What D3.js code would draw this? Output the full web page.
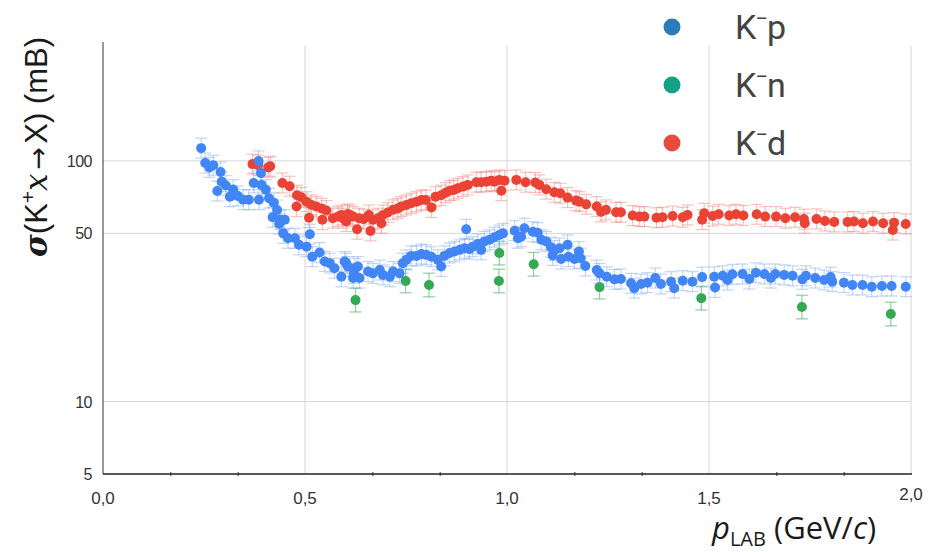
<!DOCTYPE html>
<html>
<head>
<meta charset="utf-8">
<script src="https://cdn.jsdelivr.net/npm/d3@7"></script>
<style>
    body { margin: 0; background: #fff; }
    svg { display: block; }
</style>
</head>
<body>
<svg id="chart" width="928" height="552"></svg>
<script>

// values: [p_LAB (GeV/c), sigma (mB)]
var kpData = [
    [0.243, 113], [0.253, 98], [0.263, 94], [0.273, 96], [0.283, 75], [0.291, 90],
    [0.294, 82], [0.304, 79], [0.314, 71], [0.322, 76], [0.334, 71.5], [0.347, 69],
    [0.361, 69], [0.373, 81], [0.385, 100], [0.386, 69], [0.391, 89], [0.392, 79.5],
    [0.403, 76], [0.411, 70], [0.420, 58.3], [0.423, 67], [0.431, 62.5], [0.436, 54.7],
    [0.438, 57], [0.446, 50], [0.450, 57], [0.458, 47.7], [0.475, 47.7], [0.485, 44.8],
    [0.504, 44], [0.512, 49.6], [0.518, 40], [0.536, 41.6], [0.549, 38.2], [0.561, 37.6],
    [0.573, 35.8], [0.590, 33], [0.598, 38.2], [0.602, 37.6], [0.606, 36.4], [0.619, 32.6],
    [0.621, 34.1], [0.623, 35.8], [0.631, 36.4], [0.635, 32.6], [0.656, 34.7], [0.668, 34.1],
    [0.685, 35.2], [0.693, 33.6], [0.710, 33], [0.718, 34.7], [0.734, 34.1], [0.742, 37.6],
    [0.751, 38.8], [0.763, 40.3], [0.776, 40.3], [0.788, 41], [0.800, 40.7], [0.813, 40],
    [0.829, 38.8], [0.837, 36.4], [0.845, 40.3], [0.858, 41.4], [0.870, 42], [0.883, 42.7],
    [0.895, 43.4], [0.899, 52], [0.907, 43], [0.915, 44], [0.928, 45.2], [0.936, 42.7],
    [0.944, 46.3], [0.957, 47], [0.969, 48.2], [0.981, 49.2], [0.990, 50], [1.019, 51.3],
    [1.027, 47.7], [1.035, 48.4], [1.043, 52.5], [1.064, 50.8], [1.076, 50.3], [1.085, 47],
    [1.097, 46.3], [1.109, 43.8], [1.113, 40.5], [1.117, 42.4], [1.130, 43.4], [1.134, 39.1],
    [1.150, 44.8], [1.152, 40], [1.167, 39.1], [1.178, 42], [1.182, 39.4], [1.194, 36.6],
    [1.222, 35.2], [1.229, 34.1], [1.247, 33], [1.266, 32.2], [1.282, 32.3], [1.307, 31],
    [1.315, 29.6], [1.332, 30.8], [1.348, 31.2], [1.367, 32.6], [1.381, 30.8], [1.406, 31.5],
    [1.414, 29.6], [1.435, 31.8], [1.459, 31.5], [1.483, 32.9], [1.513, 33], [1.515, 29.8],
    [1.534, 33.3], [1.546, 32], [1.558, 33.8], [1.583, 33.9], [1.600, 32.3], [1.616, 34.3],
    [1.637, 33.9], [1.653, 32.6], [1.664, 33.9], [1.686, 33.6], [1.707, 33.3], [1.731, 32.2],
    [1.740, 33.3], [1.763, 32.6], [1.785, 32], [1.801, 32.9], [1.805, 31.5], [1.834, 31.2],
    [1.855, 30.5], [1.880, 30.5], [1.903, 30], [1.928, 30.2], [1.952, 30.2], [1.987, 30]
];

var knData = [
    [0.625, 26.4], [0.749, 31.7], [0.807, 30.5], [0.980, 31.7], [0.981, 41.4],
    [1.066, 37.2], [1.229, 29.9], [1.481, 26.9], [1.730, 24.7], [1.950, 23.1]
];

var kdData = [
    [0.370, 97], [0.384, 96], [0.409, 94], [0.414, 95], [0.444, 81], [0.462, 78.5],
    [0.479, 64.6], [0.480, 72], [0.491, 70.6], [0.504, 67.7], [0.510, 58.1], [0.516, 65.6],
    [0.528, 64.6], [0.541, 63.5], [0.543, 57], [0.553, 62.2], [0.569, 57.8], [0.582, 58.7],
    [0.590, 59.6], [0.594, 57.8], [0.602, 56], [0.606, 60.2], [0.611, 59.6], [0.619, 58.7],
    [0.629, 52], [0.634, 57.8], [0.645, 57.3], [0.658, 59.6], [0.662, 51.2], [0.668, 57],
    [0.681, 57.8], [0.689, 55.1], [0.693, 59.6], [0.705, 61], [0.718, 62.6], [0.730, 63.5],
    [0.738, 64.6], [0.751, 65.6], [0.763, 66.7], [0.776, 67.7], [0.788, 68.8], [0.799, 68.8],
    [0.813, 64], [0.823, 71], [0.837, 72], [0.848, 73.8], [0.858, 75.2], [0.868, 75.7],
    [0.878, 77], [0.891, 78.2], [0.903, 79.5], [0.924, 81.6], [0.936, 81.6], [0.949, 82],
    [0.961, 82.8], [0.969, 82], [0.981, 83.4], [0.986, 75.2], [0.994, 82.8], [1.023, 83.4],
    [1.046, 81.6], [1.070, 81.3], [1.080, 79.5], [1.097, 76.3], [1.117, 74.1], [1.132, 73.4],
    [1.150, 70.4], [1.171, 68.4], [1.179, 67.7], [1.196, 66], [1.222, 64.6], [1.233, 61.5],
    [1.245, 62.6], [1.270, 61.2], [1.282, 61.2], [1.311, 59.3], [1.328, 58.7], [1.340, 58.7],
    [1.370, 58.1], [1.385, 58.3], [1.410, 59], [1.435, 58.3], [1.447, 59.6], [1.483, 57],
    [1.488, 60.6], [1.509, 59], [1.524, 60], [1.550, 59.3], [1.567, 60], [1.585, 59.3],
    [1.618, 60], [1.639, 58.7], [1.666, 58.7], [1.689, 57.8], [1.713, 58.3], [1.735, 57.3],
    [1.737, 55.1], [1.766, 57.4], [1.787, 56.3], [1.810, 55.8], [1.843, 55.8], [1.859, 56],
    [1.881, 55.1], [1.906, 56], [1.931, 55.1], [1.955, 51.6], [1.958, 55.4], [1.987, 54.7]
];

// relative error of each series (half length of the bars)
var kpErr = 0.10,
    knErr = 0.12,
    kdErr = 0.10;

var xTicks = [0, 0.5, 1, 1.5, 2],
    xTickLabels = ['0,0', '0,5', '1,0', '1,5', '2,0'],
    xMinorTicks = [1 / 6, 2 / 6, 4 / 6, 5 / 6, 7 / 6, 8 / 6, 10 / 6, 11 / 6],
    yTicks = [5, 10, 50, 100];

var legendItems = [
    { label: 'p', color: '#2b7bba' },
    { label: 'n', color: '#16a085' },
    { label: 'd', color: '#e74c3c' }
];


var svg = d3.select('#chart');

var x = d3.scaleLinear()
    .domain([0, 2])
    .range([103, 911]);

var y = d3.scaleLog()
    .domain([5, 312])
    .range([474, 42]);


// grid
svg.append('g')
    .selectAll('line')
    .data(yTicks.filter(function(d) { return d > 5; }))
    .enter()
    .append('line')
    .attr('x1', x(0))
    .attr('x2', x(2))
    .attr('y1', function(d) { return y(d); })
    .attr('y2', function(d) { return y(d); })
    .attr('stroke', '#d6d6d6')
    .attr('stroke-width', 1);

svg.append('g')
    .selectAll('line')
    .data(xTicks.filter(function(d) { return d > 0; }))
    .enter()
    .append('line')
    .attr('x1', function(d) { return x(d); })
    .attr('x2', function(d) { return x(d); })
    .attr('y1', 46)
    .attr('y2', y(5))
    .attr('stroke', '#d6d6d6')
    .attr('stroke-width', 1);


// axes
svg.append('line')
    .attr('x1', x(0))
    .attr('x2', x(0))
    .attr('y1', 42)
    .attr('y2', y(5))
    .attr('stroke', '#333')
    .attr('stroke-width', 1);

var xAxis = d3.axisBottom(x)
    .tickValues(xMinorTicks)
    .tickSize(4)
    .tickFormat('');

var gx = svg.append('g')
    .attr('transform', 'translate(0,' + (y(5) - 2) + ')')
    .call(xAxis);
gx.select('.domain').remove();
gx.selectAll('.tick line').attr('stroke', '#333');

svg.append('line')
    .attr('x1', x(0))
    .attr('x2', x(2) + 1)
    .attr('y1', y(5))
    .attr('y2', y(5))
    .attr('stroke', '#222')
    .attr('stroke-width', 1.6);

svg.append('g')
    .selectAll('text')
    .data(xTicks)
    .enter()
    .append('text')
    .attr('x', function(d) { return x(d); })
    .attr('y', function(d) { return d === 2 ? 500 : 504; })
    .attr('text-anchor', 'middle')
    .attr('font-family', '"Liberation Sans Narrow", "Liberation Sans", Arial, sans-serif')
    .attr('font-size', 17)
    .attr('fill', '#333')
    .text(function(d, i) { return xTickLabels[i]; });

svg.append('g')
    .selectAll('text')
    .data(yTicks)
    .enter()
    .append('text')
    .attr('x', 92)
    .attr('y', function(d) { return y(d) + 6; })
    .attr('text-anchor', 'end')
    .attr('font-family', '"Liberation Sans", Arial, sans-serif')
    .attr('font-size', 16)
    .attr('letter-spacing', -0.5)
    .attr('fill', '#333')
    .text(function(d) { return d; });


// axis titles
var yTitle = svg.append('text')
    .attr('transform', 'translate(47,147) rotate(-90)')
    .attr('text-anchor', 'middle')
    .attr('font-family', '"Liberation Sans", Arial, sans-serif')
    .attr('font-size', 31)
    .attr('fill', '#1a1a1a');
yTitle.append('tspan')
    .attr('font-family', '"DejaVu Serif", serif')
    .attr('font-weight', 'bold')
    .attr('font-style', 'italic')
    .text('σ');
yTitle.append('tspan').text('(K');
yTitle.append('tspan')
    .attr('font-size', 21)
    .attr('dy', -12)
    .text('+');
yTitle.append('tspan')
    .attr('font-family', '"DejaVu Serif", serif')
    .attr('font-style', 'italic')
    .attr('dy', 12)
    .text('x');
yTitle.append('tspan')
    .attr('font-family', '"DejaVu Sans", sans-serif')
    .attr('font-size', 27)
    .attr('dx', 4)
    .text('→');
yTitle.append('tspan')
    .attr('dx', 3)
    .text('X) (mB)');

var xTitle = svg.append('text')
    .attr('x', 712)
    .attr('y', 539)
    .attr('font-family', '"Open Sans", "Noto Sans", sans-serif')
    .attr('font-size', 31)
    .attr('fill', '#1a1a1a');
xTitle.append('tspan')
    .attr('font-style', 'italic')
    .text('p');
xTitle.append('tspan')
    .attr('font-size', 20)
    .attr('dy', 7)
    .text('LAB');
xTitle.append('tspan')
    .attr('dy', -7)
    .text(' (GeV/');
xTitle.append('tspan')
    .attr('font-style', 'italic')
    .text('c');
xTitle.append('tspan').text(')');


// series: error bars first, then the points
function drawSeries(data, err, color, barColor) {
    var g = svg.append('g');

    var bars = g.selectAll('.bar')
        .data(data)
        .enter()
        .append('g')
        .attr('class', 'bar')
        .attr('stroke', barColor)
        .attr('stroke-width', 1.2);

    bars.append('line')
        .attr('x1', function(d) { return x(d[0]); })
        .attr('x2', function(d) { return x(d[0]); })
        .attr('y1', function(d) { return y(d[1] * (1 + err)); })
        .attr('y2', function(d) { return y(d[1] / (1 + err)); });

    [1 + err, 1 / (1 + err)].forEach(function(f) {
        bars.append('line')
            .attr('x1', function(d) { return x(d[0]) - 6; })
            .attr('x2', function(d) { return x(d[0]) + 6; })
            .attr('y1', function(d) { return y(d[1] * f); })
            .attr('y2', function(d) { return y(d[1] * f); });
    });

    g.selectAll('circle')
        .data(data)
        .enter()
        .append('circle')
        .attr('cx', function(d) { return x(d[0]); })
        .attr('cy', function(d) { return y(d[1]); })
        .attr('r', 5)
        .attr('fill', color);
}

drawSeries(kdData, kdErr, '#ea4335', 'rgba(240,120,110,0.45)');
drawSeries(knData, knErr, '#34a853', 'rgba(52,168,83,0.55)');
drawSeries(kpData, kpErr, '#4285f4', 'rgba(120,165,240,0.45)');


// legend
var legend = svg.append('g')
    .selectAll('g')
    .data(legendItems)
    .enter()
    .append('g')
    .attr('transform', function(d, i) { return 'translate(672,' + (27 + i * 58) + ')'; });

legend.append('circle')
    .attr('r', 8.5)
    .attr('fill', function(d) { return d.color; });

var legendText = legend.append('text')
    .attr('x', 63)
    .attr('y', 12)
    .attr('font-family', 'Roboto, "Noto Sans", sans-serif')
    .attr('font-size', 34)
    .attr('fill', '#444');
legendText.append('tspan').text('K');
legendText.append('tspan')
    .attr('font-size', 22)
    .attr('dy', -13)
    .attr('dx', -1)
    .text('−');
legendText.append('tspan')
    .attr('dy', 13)
    .attr('dx', -1)
    .text(function(d) { return d.label; });

</script>
</body>
</html>
